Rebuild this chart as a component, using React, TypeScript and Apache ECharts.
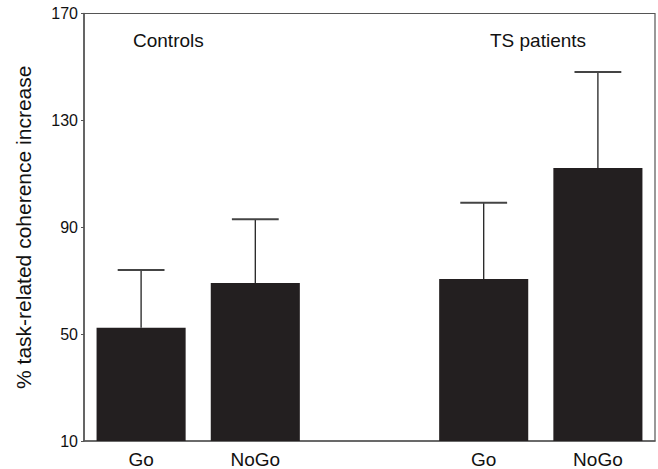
import React, { useEffect, useRef } from "react";
import * as echarts from "echarts";

const categories = ["Go", "NoGo", "", "Go", "NoGo"];
const means: (number | null)[] = [52.4, 69.1, null, 70.6, 112.2];
const upperErr: (number | null)[] = [74.0, 93.0, null, 99.2, 148.1];
const yTicks = [10, 50, 90, 130, 170];
const groupLabels = ["Controls", "TS patients"];

const FONT = "Liberation Sans, Arial, Helvetica, sans-serif";

export default function App() {
  const ref = useRef<HTMLDivElement>(null);
  useEffect(() => {
    if (!ref.current) return;
    const chart = echarts.init(ref.current, undefined, { renderer: "svg" });
    const barData = means.map((v) => (v === null ? "-" : v));
    const errData = means
      .map((v, i) => (v === null ? null : [i, v, upperErr[i]]))
      .filter((d) => d !== null);
    chart.setOption({
      animation: false,
      backgroundColor: "#ffffff",
      textStyle: { fontFamily: FONT },
      grid: {
        left: 84,
        right: 3,
        top: 13.5,
        bottom: 27,
        show: true,
        borderColor: "#555",
        borderWidth: 1.2,
        containLabel: false,
      },
      xAxis: {
        type: "category",
        data: categories,
        axisLine: { show: true, lineStyle: { color: "#555", width: 1.5 } },
        axisTick: { show: false },
        axisLabel: { color: "#111", fontSize: 19, margin: 9, fontFamily: FONT },
        splitLine: { show: false },
      },
      yAxis: {
        type: "value",
        min: yTicks[0],
        max: yTicks[yTicks.length - 1],
        interval: 40,
        name: "% task-related coherence increase",
        nameLocation: "middle",
        nameGap: 50,
        nameRotate: 90,
        nameTextStyle: { color: "#111", fontSize: 21, fontFamily: FONT },
        axisLine: { show: true, lineStyle: { color: "#555", width: 1.5 } },
        axisTick: { show: true, length: 3, lineStyle: { color: "#555" } },
        axisLabel: { color: "#111", fontSize: 16, margin: 6, fontFamily: FONT },
        splitLine: { show: false },
      },
      series: [
        {
          type: "bar",
          data: barData,
          barWidth: "78%",
          itemStyle: { color: "#231f20" },
        },
        {
          type: "custom",
          data: errData,
          z: 3,
          renderItem: (params: any, api: any) => {
            const idx = api.value(0);
            const base = api.coord([idx, api.value(1)]);
            const top = api.coord([idx, api.value(2)]);
            const half = api.size([1, 0])[0] * 0.205;
            return {
              type: "group",
              children: [
                {
                  type: "line",
                  shape: { x1: base[0], y1: base[1], x2: top[0], y2: top[1] },
                  style: { stroke: "#222", lineWidth: 1.3 },
                },
                {
                  type: "line",
                  shape: { x1: top[0] - half, y1: top[1], x2: top[0] + half, y2: top[1] },
                  style: { stroke: "#444", lineWidth: 2 },
                },
              ],
            };
          },
        },
      ],
      graphic: [
        {
          type: "text",
          left: 133,
          top: 31,
          style: { text: groupLabels[0], fontSize: 19, fill: "#111", fontFamily: FONT },
        },
        {
          type: "text",
          left: 490,
          top: 31,
          style: { text: groupLabels[1], fontSize: 19, fill: "#111", fontFamily: FONT },
        },
      ],
    });
    return () => chart.dispose();
  }, []);
  return (
    <div
      ref={ref}
      style={{ position: "fixed", left: 0, top: 0, width: 658, height: 469, background: "#fff" }}
    />
  );
}
